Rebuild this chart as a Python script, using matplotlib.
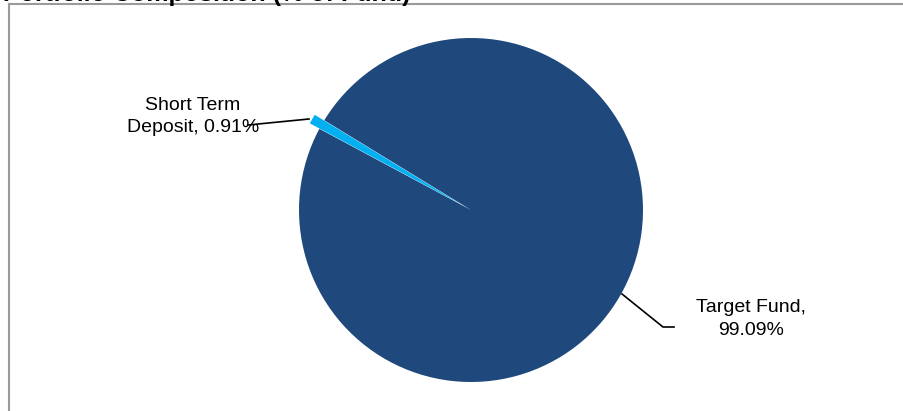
import numpy as np
import matplotlib.pyplot as plt
from matplotlib.lines import Line2D

plt.rcParams['font.family'] = ['Liberation Sans', 'DejaVu Sans']

categories = ['Target Fund', 'Short Term Deposit']
shares = [99.09, 0.91]
colors = ['#1F497D', '#00B0F0']

fig = plt.figure(figsize=(9.04, 4.11), dpi=100)
ax = fig.add_axes([0, 0, 1, 1])

# pie in pixel-like coords (y up)
cx, cy, r = 471, 201, 172
wedges, _ = ax.pie(shares, colors=colors, startangle=148.56, counterclock=False,
                   center=(cx, cy), radius=r, explode=[0, 11],
                   wedgeprops=dict(linewidth=0), frame=True)
ax.set_xlim(0, 904)
ax.set_ylim(0, 411)
ax.set_aspect('auto')
ax.axis('off')

# labels
ax.text(193, 411 - 116.5, 'Short Term\nDeposit, 0.91%', ha='center', va='center',
        fontsize=14, linespacing=1.4)
ax.plot([248, 309], [411 - 125, 411 - 119], color='black', lw=1.2)

ax.text(751, 411 - 319, 'Target Fund,\n99.09%', ha='center', va='center',
        fontsize=14, linespacing=1.4)
ax.plot([622, 663, 674], [411 - 294, 411 - 327, 411 - 327], color='black', lw=1.2)

# frame
fig.add_artist(Line2D([8.5 / 904, 8.5 / 904], [0, 1 - 4.5 / 411], color='#9a9a9a', lw=1.5,
                      transform=fig.transFigure))
fig.add_artist(Line2D([8.5 / 904, 1], [1 - 4.5 / 411, 1 - 4.5 / 411], color='#9a9a9a', lw=1.5,
                      transform=fig.transFigure))

# title mostly cut off at top
fig.text(3 / 904, 1 - 0.5 / 411, 'Portfolio Composition (% of Fund)', fontsize=18,
         fontweight='bold', ha='left', va='baseline')

fig.savefig('out.png', dpi=100)
